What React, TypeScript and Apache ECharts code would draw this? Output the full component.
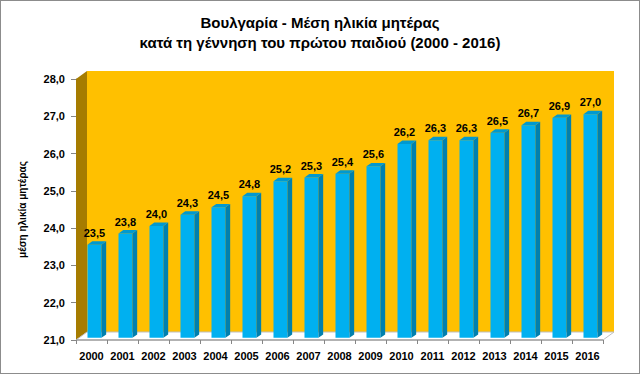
import React, { useEffect, useRef } from "react";
import * as echarts from "echarts";

const years = ["2000","2001","2002","2003","2004","2005","2006","2007","2008","2009","2010","2011","2012","2013","2014","2015","2016"];
const ages = [23.5,23.8,24.0,24.3,24.5,24.8,25.2,25.3,25.4,25.6,26.2,26.3,26.3,26.5,26.7,26.9,27.0];
const titleLines = ["Βουλγαρία - Μέση ηλικία μητέρας", "κατά τη γέννηση του πρώτου παιδιού (2000 - 2016)"];
const yAxisName = "μέση ηλικία μητέρας";
const yMin = 21;
const yMax = 28;

const DX = 11;
const DY = -8;
const F1 = 0.27;
const F2 = 0.7;
const FONT = "'Liberation Sans', Arial, sans-serif";
const fmt = (v: number) => v.toFixed(1).replace(".", ",");

function measure(text: string, font: string) {
  const c = document.createElement("canvas").getContext("2d")!;
  c.font = font;
  return c.measureText(text).width;
}

export default function App() {
  const ref = useRef<HTMLDivElement>(null);
  useEffect(() => {
    document.body.style.margin = "0";
    const chart = echarts.init(ref.current!, null, { renderer: "svg" });
    const titleFont = "bold 15px 'Liberation Sans'";
    const targetW = [249, 363];
    const titleY = [21, 41];
    chart.setOption({
      animation: false,
      backgroundColor: "#ffffff",
      graphic: titleLines.map((t, k) => ({
        type: "text",
        x: 319,
        y: titleY[k],
        scaleX: Math.min(1, targetW[k] / measure(t, titleFont)),
        style: { text: t, align: "center", verticalAlign: "middle", fontFamily: FONT, fontWeight: "bold", fontSize: 15, fill: "#000" },
      })),
      grid: { left: 75, right: 36, top: 78, bottom: 33 },
      xAxis: {
        type: "category",
        data: years,
        axisLine: { show: false },
        axisTick: { show: true, alignWithLabel: false, length: 4, lineStyle: { color: "#868686" } },
        axisLabel: { interval: 0, fontFamily: FONT, fontWeight: "bold", fontSize: 11, color: "#000", margin: 10 },
        z: 10,
      },
      yAxis: {
        type: "value",
        min: yMin,
        max: yMax,
        interval: 1,
        name: yAxisName,
        nameLocation: "middle",
        nameRotate: 90,
        nameGap: 49,
        nameTextStyle: { fontFamily: FONT, fontWeight: "bold", fontSize: 10, color: "#000" },
        axisLine: { show: true, lineStyle: { color: "#868686" } },
        axisTick: { show: true, length: 5, lineStyle: { color: "#868686" } },
        splitLine: { show: false },
        axisLabel: { fontFamily: FONT, fontWeight: "bold", fontSize: 11, color: "#000", margin: 11, formatter: (v: number) => fmt(v) },
      },
      series: [
        {
          type: "custom",
          clip: false,
          silent: true,
          z: 1,
          data: [[0, yMin]],
          renderItem: (params: any) => {
            const cs = params.coordSys;
            const x0 = cs.x, x1 = cs.x + cs.width, y0 = cs.y, y1 = cs.y + cs.height;
            return {
              type: "group",
              children: [
                { type: "rect", shape: { x: x0 + DX, y: y0 + DY, width: x1 - x0, height: y1 - y0 }, style: { fill: "#FFC000" } },
                { type: "polygon", shape: { points: [[x0, y0], [x0 + DX, y0 + DY], [x0 + DX, y1 + DY], [x0, y1]] }, style: { fill: "#A67C00" } },
                { type: "polygon", shape: { points: [[x0, y1], [x1, y1], [x1 + DX, y1 + DY], [x0 + DX, y1 + DY]] }, style: { fill: "#ffffff", stroke: "#BFBFBF", lineWidth: 1 } },
                { type: "line", shape: { x1: x0, y1: y1, x2: x1, y2: y1 }, style: { stroke: "#868686", lineWidth: 1 } },
              ],
            };
          },
        },
        {
          type: "custom",
          clip: false,
          z: 5,
          encode: { x: 0, y: 1 },
          data: ages.map((v, i) => [i, v]),
          renderItem: (params: any, api: any) => {
            const i = api.value(0);
            const v = api.value(1);
            const top = api.coord([i, v]);
            const base = api.coord([i, yMin]);
            const w = api.size([1, 0])[0] * 0.45;
            const fl = top[0] - w / 2 + F1 * DX;
            const fr = fl + w;
            const ft = top[1] + F1 * DY;
            const fb = base[1] + F1 * DY;
            const ox = (F2 - F1) * DX;
            const oy = (F2 - F1) * DY;
            return {
              type: "group",
              children: [
                { type: "rect", shape: { x: fl, y: ft, width: w, height: fb - ft }, style: { fill: "#00B0F0" } },
                { type: "polygon", shape: { points: [[fr, ft], [fr + ox, ft + oy], [fr + ox, fb + oy], [fr, fb]] }, style: { fill: "#0080AE" } },
                { type: "polygon", shape: { points: [[fl, ft], [fr, ft], [fr + ox, ft + oy], [fl + ox, ft + oy]] }, style: { fill: "#0099D0" } },
                {
                  type: "text",
                  style: {
                    text: fmt(v),
                    x: (fl + fr) / 2,
                    y: ft + oy - 3,
                    align: "center",
                    verticalAlign: "bottom",
                    fontFamily: FONT,
                    fontWeight: "bold",
                    fontSize: 11,
                    fill: "#000",
                  },
                },
              ],
            };
          },
        },
      ],
    });
    return () => chart.dispose();
  }, []);
  return (
    <div
      ref={ref}
      style={{ position: "fixed", left: 0, top: 0, width: 640, height: 374, boxSizing: "border-box", border: "1px solid #8c8c8c" }}
    />
  );
}
